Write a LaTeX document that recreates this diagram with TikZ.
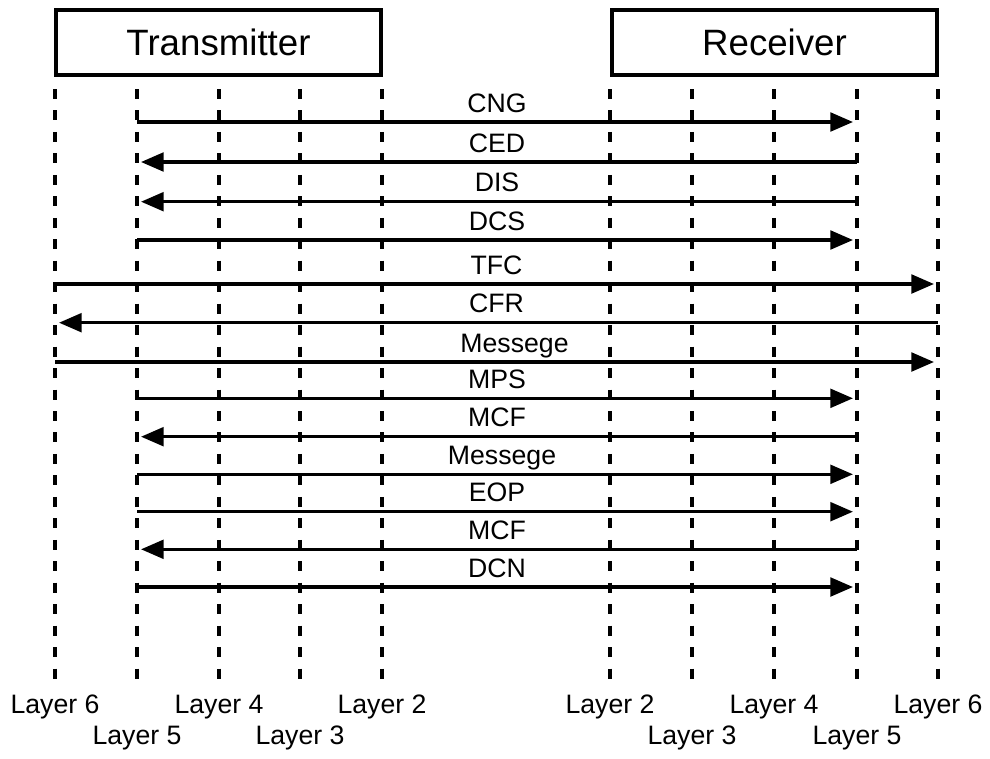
\documentclass[tikz,border=0pt]{standalone}
\usepackage{fontspec}
\setmainfont{Liberation Sans}
\usetikzlibrary{arrows.meta,calc}

\begin{document}
\begin{tikzpicture}[x=0.75pt,y=-0.75pt,>={Triangle[length=17pt,width=14pt]},font=\fontsize{20}{23}\selectfont,
    every node/.style={align=center},
    entity/.style={draw,line width=3pt,minimum width=244pt,minimum height=49pt,inner sep=0pt,font=\fontsize{27.5}{32}\selectfont},
    lane/.style={line width=3pt,dash pattern=on 7.5pt off 8.6pt},
    msg/.style={->,line width=2.5pt,shorten >=3pt}]
    \useasboundingbox (0,0) rectangle (990,758);
    \node[entity] (tx) at (218.5,42.5) {Transmitter};
    \node[entity] (rx) at (774.5,42.5) {Receiver};
    % layer lanes
    \foreach \name/\x/\ly/\txt in {tx6/55/707/Layer 6,tx5/137/738/Layer 5,tx4/219/707/Layer 4,tx3/300/738/Layer 3,tx2/382/707/Layer 2,
        rx2/610/707/Layer 2,rx3/692/738/Layer 3,rx4/774/707/Layer 4,rx5/857/738/Layer 5,rx6/938/707/Layer 6} {
      \coordinate (\name) at (\x,89);
      \coordinate (\name end) at (\x,687);
      \node (\name lbl) at (\x,\ly) {\txt};
      \draw[lane] (\name) -- (\name end);
    }
    % messages
    \foreach \y/\from/\to/\txt/\dx in {122/tx5/rx5/CNG/0,162/rx5/tx5/CED/0,201.7/rx5/tx5/DIS/0,240/tx5/rx5/DCS/0,
        284/tx6/rx6/TFC/0,322.7/rx6/tx6/CFR/0,362/tx6/rx6/Messege/18,398.3/tx5/rx5/MPS/0,436.7/rx5/tx5/MCF/0,
        474.3/tx5/rx5/Messege/5,511.7/tx5/rx5/EOP/0,549.3/rx5/tx5/MCF/0,587/tx5/rx5/DCN/0} {
      \coordinate (row) at (0,\y);
      \draw[msg] (\from |- row) -- node[anchor=base,yshift=7.5pt,xshift=\dx*0.75pt] {\txt} (\to |- row);
    }
  \end{tikzpicture}
\end{document}
